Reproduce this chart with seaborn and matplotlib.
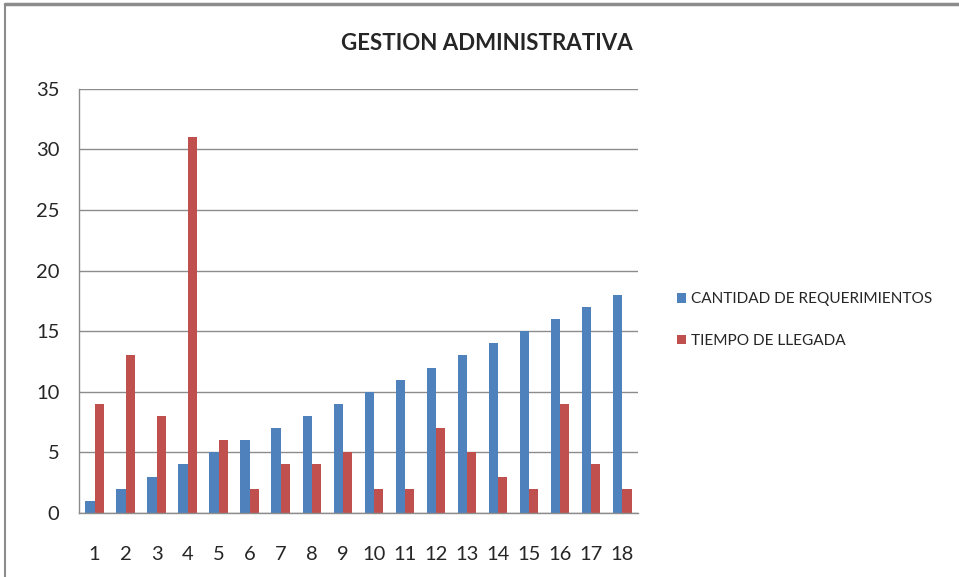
import seaborn as sns
import matplotlib.pyplot as plt
import pandas as pd
from matplotlib.lines import Line2D

dias = [str(i) for i in range(1, 19)]
cantidad = [1, 2, 3, 4, 5, 6, 7, 8, 9, 10, 11, 12, 13, 14, 15, 16, 17, 18]
tiempo = [9, 13, 8, 31, 6, 2, 4, 4, 5, 2, 2, 7, 5, 3, 2, 9, 4, 2]
series = ["CANTIDAD DE REQUERIMIENTOS", "TIEMPO DE LLEGADA"]
colores = ["#4F81BD", "#C0504D"]

df = pd.DataFrame({
    "dia": dias * 2,
    "valor": cantidad + tiempo,
    "serie": [series[0]] * len(dias) + [series[1]] * len(dias),
})

sns.set_style("white")
plt.rcParams["font.family"] = ["Lato", "DejaVu Sans"]

fig = plt.figure(figsize=(9.59, 5.77), dpi=100)
ax = fig.add_axes([0.0824, 0.111, 0.5826, 0.735])
sns.barplot(data=df, x="dia", y="valor", hue="serie", palette=colores,
            width=0.6, saturation=1, linewidth=0, edgecolor="none",
            ax=ax, legend=True)

ax.set_ylim(0, 35)
ax.set_yticks(range(0, 36, 5))
ax.yaxis.grid(True, color="#8c8c8c", linewidth=1)
ax.set_axisbelow(True)
for s in ["top", "right"]:
    ax.spines[s].set_visible(False)
for s in ["left", "bottom"]:
    ax.spines[s].set_color("#8c8c8c")
    ax.spines[s].set_linewidth(1)
ax.set_xlabel("")
ax.set_ylabel("")
ax.tick_params(axis="x", labelsize=14.5, pad=24, length=0)
ax.tick_params(axis="y", labelsize=14.5, pad=14, length=0)
fig.text(0.508, 0.925, "GESTION ADMINISTRATIVA", fontsize=16, fontweight="bold",
         ha="center", va="center")

ax.legend(loc="center left", bbox_to_anchor=(1.045, 0.455), frameon=False,
          fontsize=11.1, handlelength=0.6, handleheight=0.6, handletextpad=0.3,
          labelspacing=1.8)

# marco del grafico
fig.add_artist(Line2D([0.005, 1], [0.993, 0.993], color="#8c8c8c", linewidth=2.5))
fig.add_artist(Line2D([0.005, 0.005], [0, 0.993], color="#8c8c8c", linewidth=1.5))

fig.savefig("out.png", dpi=100)
